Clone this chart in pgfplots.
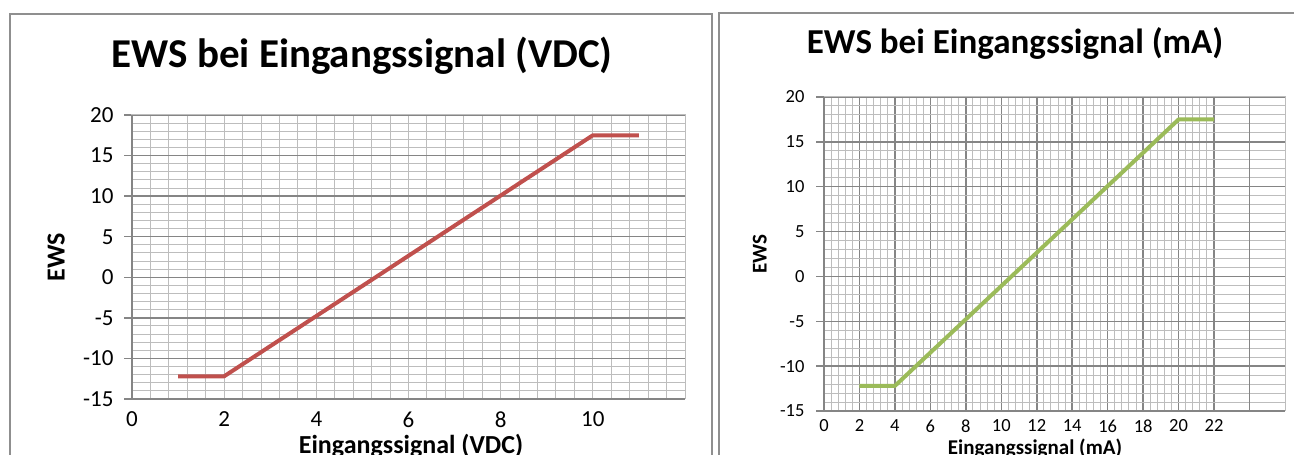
\documentclass[border=0pt]{standalone}
\usepackage{fontspec}
\setmainfont{Carlito}
\usepackage{pgfplots}
\pgfplotsset{compat=1.18}

\definecolor{ewsred}{HTML}{C0504D}
\definecolor{ewsgreen}{HTML}{9BBB59}
\definecolor{gridlight}{HTML}{BDBDBD}
\definecolor{griddark}{HTML}{858585}
\definecolor{framegrey}{HTML}{8F8F8F}

\pgfplotsset{
  ewschart/.style={
    scale only axis,
    ymin=-15, ymax=20,
    ytick={-15,-10,...,20},
    minor y tick num=4,
    ymajorgrids, yminorgrids,
    major grid style={griddark, line width=1.5pt},
    minor grid style={gridlight, line width=1pt},
    axis line style={gridlight, line width=1pt},
    tick align=outside,
    ytick pos=left,
    xtick style={draw=none},
    minor tick length=0pt,
    ytick style={griddark, line width=1.5pt},
    major tick length=8pt,
    /pgf/number format/assume math mode=true,
    after end axis/.code={
      \draw[griddark, line width=1.5pt] (rel axis cs:0,1) -- (rel axis cs:0,0) -- (rel axis cs:1,0);
    },
  },
}

\begin{document}
\begin{tikzpicture}
\path[use as bounding box] (0pt,0pt) rectangle (1294pt,455pt);
\clip (0pt,0pt) rectangle (1294pt,455pt);

% panel frames
\draw[framegrey, line width=1.5pt] (10pt,-10pt) |- (712pt,441pt) -- (712pt,-10pt);
\draw[framegrey, line width=1.5pt] (719pt,-10pt) |- (1300pt,442pt);

% left: VDC
\begin{axis}[
  ewschart,
  at={(132pt,56pt)}, anchor=south west,
  width=553pt, height=284pt,
  xmin=0, xmax=12,
  xtick={0,2,...,10},
  xmajorgrids=false, xminorgrids,
  minor xtick={0,0.4,...,12},
  ticklabel style={font=\fontsize{23}{23}\selectfont},
  xticklabel style={yshift=-1pt},
  yticklabel style={xshift=-7pt},
  title={EWS bei Eingangssignal (VDC)},
  title style={at={(axis description cs:0.416,1.187)}, anchor=center,
    font=\bfseries\fontsize{41}{41}\selectfont},
  xlabel={Eingangssignal (VDC)},
  xlabel style={at={(axis description cs:0.5045,-0.165)}, anchor=center,
    font=\bfseries\fontsize{26}{26}\selectfont},
  ylabel={EWS},
  ylabel style={at={(axis description cs:-0.137,0.5)}, anchor=center,
    font=\bfseries\fontsize{26}{26}\selectfont},
]
\addplot[ewsred, line width=4pt, line join=round] coordinates {
  (1,-12.2) (2,-12.2) (10,17.5) (11,17.5)
};
\end{axis}

% right: mA
\begin{axis}[
  ewschart,
  at={(824pt,44pt)}, anchor=south west,
  width=461pt, height=314pt,
  xmin=0, xmax=26,
  xtick={0,2,...,22},
  extra x ticks={24}, extra x tick labels={},
  extra x tick style={grid=major},
  minor x tick num=4,
  xmajorgrids, xminorgrids,
  ticklabel style={font=\fontsize{18.5}{18.5}\selectfont},
  xticklabel style={yshift=3pt},
  yticklabel style={xshift=-8pt},
  title={EWS bei Eingangssignal (mA)},
  title style={at={(axis description cs:0.4143,1.150)}, anchor=center,
    font=\bfseries\fontsize{35}{35}\selectfont},
  xlabel={Eingangssignal (mA)},
  xlabel style={at={(axis description cs:0.4577,-0.118)}, anchor=center,
    font=\bfseries\fontsize{21}{21}\selectfont},
  ylabel={EWS},
  ylabel style={at={(axis description cs:-0.139,0.5)}, anchor=center,
    font=\bfseries\fontsize{21}{21}\selectfont},
]
\addplot[ewsgreen, line width=4pt, line join=round] coordinates {
  (2,-12.2) (4,-12.2) (20,17.5) (22,17.5)
};
\end{axis}
\end{tikzpicture}
\end{document}
